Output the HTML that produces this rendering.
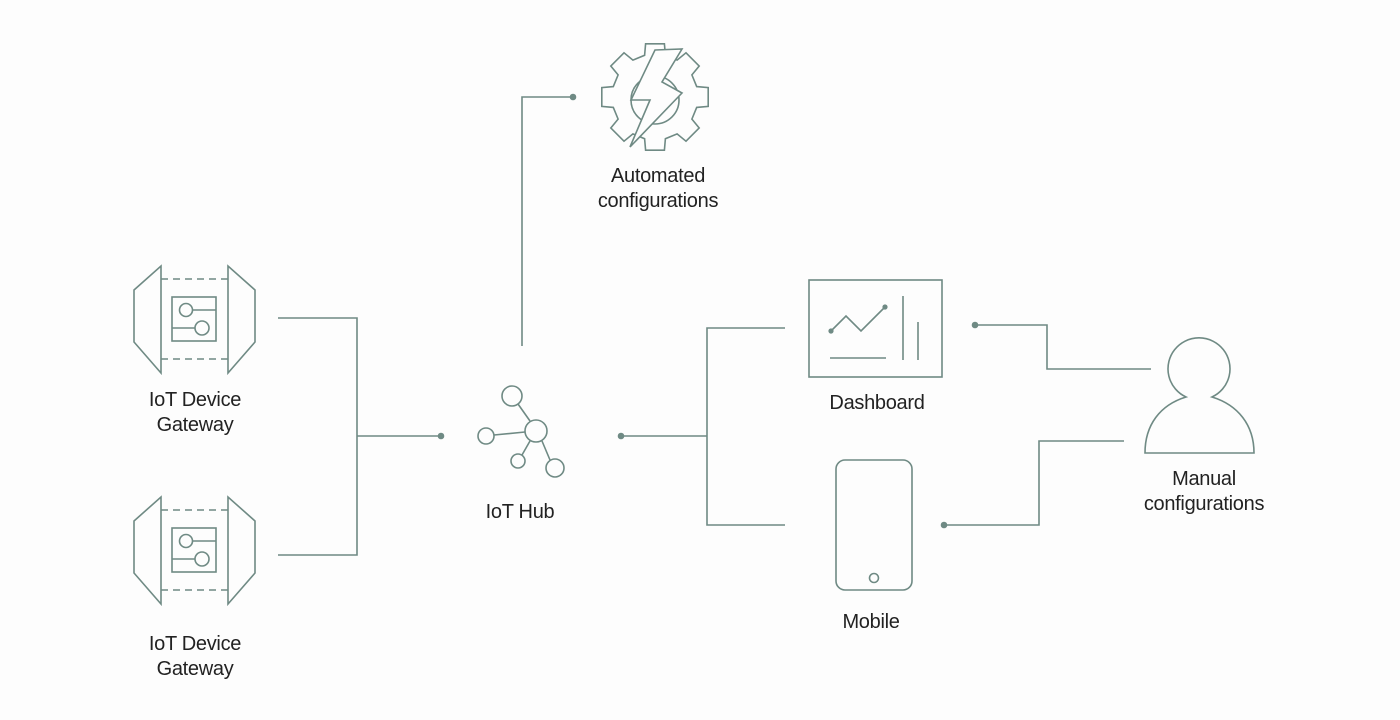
<!DOCTYPE html>
<html><head><meta charset="utf-8"><style>
html,body{margin:0;padding:0;background:#fdfdfd;}
body{width:1400px;height:720px;overflow:hidden;position:relative;font-family:"Liberation Sans",Arial,sans-serif;}
.l{position:absolute;font-size:20px;line-height:25px;color:#222;text-align:center;width:200px;letter-spacing:-0.3px;}
</style></head><body>
<svg width="1400" height="720" style="position:absolute;left:0;top:0" fill="none" stroke="#6f8a84" stroke-width="1.6">
<polyline points="278,318 357,318 357,555 278,555"/>
<line x1="357" y1="436" x2="441" y2="436"/>
<circle cx="441" cy="436" r="2.5" fill="#6f8a84"/>
<polyline points="522,346 522,97 573,97"/>
<circle cx="573" cy="97" r="2.5" fill="#6f8a84"/>
<circle cx="621" cy="436" r="2.5" fill="#6f8a84"/>
<line x1="621" y1="436" x2="707" y2="436"/>
<polyline points="785,328 707,328 707,525 785,525"/>
<circle cx="975" cy="325" r="2.5" fill="#6f8a84"/>
<polyline points="975,325 1047,325 1047,369 1151,369"/>
<circle cx="944" cy="525" r="2.5" fill="#6f8a84"/>
<polyline points="944,525 1039,525 1039,441 1124,441"/>
<g id="gw">
<polygon points="134,290 161,266 161,373 134,342"/>
<polygon points="255,290 228,266 228,373 255,342"/>
<line x1="161" y1="279" x2="228" y2="279" stroke-dasharray="7,5"/>
<line x1="161" y1="359" x2="228" y2="359" stroke-dasharray="7,5"/>
<rect x="172" y="297" width="44" height="44"/>
<circle cx="186" cy="310" r="6.5"/>
<line x1="192.5" y1="310" x2="216" y2="310"/>
<circle cx="202" cy="328" r="7"/>
<line x1="172" y1="328" x2="195" y2="328"/>
</g>
<use href="#gw" transform="translate(0,231)"/>
<circle cx="536" cy="431" r="11"/>
<circle cx="512" cy="396" r="10"/>
<circle cx="486" cy="436" r="8"/>
<circle cx="518" cy="461" r="7"/>
<circle cx="555" cy="468" r="9"/>
<line x1="518" y1="404" x2="530" y2="421"/>
<line x1="494" y1="435" x2="525" y2="432"/>
<line x1="530" y1="441" x2="522" y2="455"/>
<line x1="542" y1="441" x2="550" y2="460"/>
<path id="gear"/>
<circle cx="655" cy="100" r="24"/>
<polygon points="655,50 682,49 662,82 682,93 630,147 650,100 631,100" fill="#fdfdfd"/>
<rect x="809" y="280" width="133" height="97"/>
<polyline points="831,331 846,316 861,331 885,307"/>
<circle cx="831" cy="331" r="1.8" fill="#6f8a84"/>
<circle cx="885" cy="307" r="1.8" fill="#6f8a84"/>
<line x1="830" y1="358" x2="886" y2="358"/>
<line x1="903" y1="296" x2="903" y2="360"/>
<line x1="918" y1="322" x2="918" y2="360"/>
<rect x="836" y="460" width="76" height="130" rx="9"/>
<circle cx="874" cy="578" r="4.5"/>
<path d="M1186,397 A31,31 0 1 1 1212,397 C1238,405 1254,425 1254,453 L1145,453 C1145,425 1160,405 1186,397 Z"/>
</svg>
<script>
(function(){var cx=655,cy=97,d="";for(var k=0;k<8;k++){var t=k*45-90;var a=[[t-14,43],[t-10,54],[t+10,54],[t+14,43]];a.forEach(function(p,i){var r=p[0]*Math.PI/180;var x=cx+p[1]*Math.cos(r),y=cy+p[1]*Math.sin(r);d+=(k==0&&i==0?"M":"L")+x.toFixed(1)+","+y.toFixed(1);});}
document.getElementById("gear").setAttribute("d",d+"Z");})();
</script>
<div class="l" style="left:95px;top:388px">IoT Device<br>Gateway</div>
<div class="l" style="left:95px;top:632px">IoT Device<br>Gateway</div>
<div class="l" style="left:420px;top:500px">IoT Hub</div>
<div class="l" style="left:558px;top:164px">Automated<br>configurations</div>
<div class="l" style="left:777px;top:391px">Dashboard</div>
<div class="l" style="left:771px;top:610px">Mobile</div>
<div class="l" style="left:1104px;top:467px">Manual<br>configurations</div>
</body></html>
